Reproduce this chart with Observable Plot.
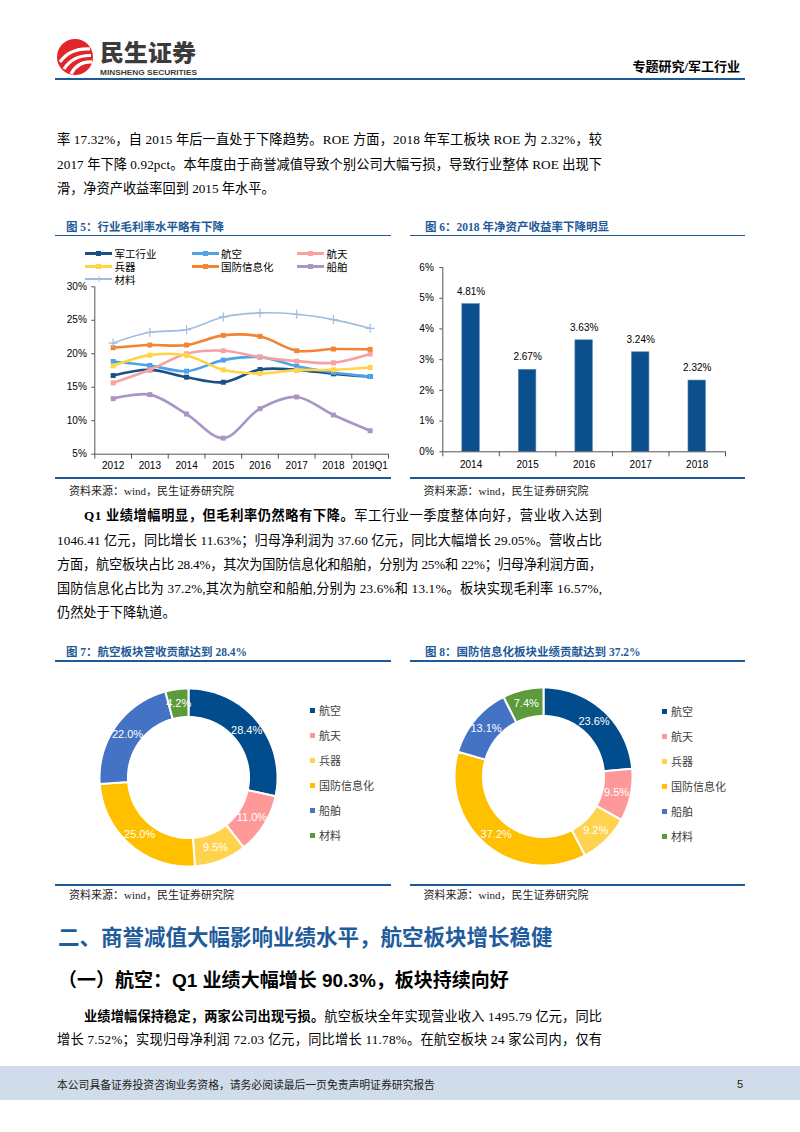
<!DOCTYPE html>
<html><head><meta charset="utf-8">
<script src="https://cdn.jsdelivr.net/npm/d3@7"></script>
<script src="https://cdn.jsdelivr.net/npm/@observablehq/plot@0.6"></script>
<style>
body{margin:0;background:#fff;}
#page{position:relative;width:800px;height:1132px;overflow:hidden;background:#fff;font-family:"Liberation Serif","Noto Sans CJK SC",serif;color:#000;}
.abs{position:absolute;white-space:nowrap;}
.tl{position:absolute;left:57px;width:545px;font-size:13.2px;line-height:18px;white-space:nowrap;text-align:left;}
.tl.ind{left:84px;width:518px;}
.tl b{font-family:"Liberation Serif","Noto Sans CJK SC",serif;font-weight:700;}
.ftitle{position:absolute;font-size:11.5px;line-height:14px;font-weight:700;color:#1f5a98;font-family:"Liberation Serif","Noto Sans CJK SC",serif;white-space:nowrap;}
.hline{position:absolute;height:1.6px;background:#1f5a98;}
.src{position:absolute;font-size:11px;line-height:14px;color:#222;white-space:nowrap;}
.chart{position:absolute;}
.lg{position:absolute;font-family:"Noto Sans CJK SC",sans-serif;font-size:10.5px;line-height:13px;white-space:nowrap;}
.lgline{position:absolute;height:3px;}
.lgmark{position:absolute;width:5px;height:5px;}
.dl{position:absolute;font-family:"Noto Sans CJK SC",sans-serif;font-size:11px;line-height:14px;color:#404040;white-space:nowrap;}
.dl i{display:inline-block;width:5px;height:5px;margin-right:4px;vertical-align:middle;position:relative;top:-1px;}
</style></head>
<body><div id="page">

<!-- header -->
<svg class="abs" style="left:55px;top:34px;overflow:visible" width="170" height="48">
  <circle cx="20" cy="23" r="18" fill="#e0262b"/>
  <path d="M5 28 Q 15 14 35 15" stroke="#fff" stroke-width="3.2" fill="none"/>
  <path d="M9 35 Q 18 21 36 21.5" stroke="#fff" stroke-width="3.2" fill="none"/>
  <path d="M16 40 Q 23 27 37 28" stroke="#fff" stroke-width="3.2" fill="none"/>
  <text x="45" y="26.5" font-size="23" font-weight="900" fill="#3b3b3b" font-family="Noto Sans CJK SC" textLength="96" lengthAdjust="spacingAndGlyphs">民生证券</text>
  <text x="45" y="40.5" font-size="8" font-weight="700" fill="#3b3b3b" font-family="Liberation Sans" textLength="97" lengthAdjust="spacingAndGlyphs">MINSHENG SECURITIES</text>
</svg>
<div class="abs" style="right:60px;top:58px;font-size:13px;line-height:17px;font-weight:700;font-family:'Liberation Serif','Noto Sans CJK SC',serif;">专题研究/军工行业</div>
<div class="abs" style="left:55px;top:77.5px;width:690px;height:2.6px;background:#1b5a96;"></div>

<!-- paragraph 1 -->
<div class="tl fit" style="top:131px">率 17.32%，自 2015 年后一直处于下降趋势。ROE 方面，2018 年军工板块 ROE 为 2.32%，较</div>
<div class="tl fit" style="top:156px">2017 年下降 0.92pct。本年度由于商誉减值导致个别公司大幅亏损，导致行业整体 ROE 出现下</div>
<div class="tl" style="top:180px">滑，净资产收益率回到 2015 年水平。</div>

<!-- figure titles top -->
<div class="ftitle" style="left:66px;top:220px">图 5：行业毛利率水平略有下降</div>
<div class="hline" style="left:55px;top:234.5px;width:336px"></div>
<div class="ftitle" style="left:425px;top:220px">图 6：2018 年净资产收益率下降明显</div>
<div class="hline" style="left:410px;top:234.5px;width:335px"></div>

<div id="lineLegend"></div>
<div id="lineChart" class="chart" style="left:57px;top:280px"></div>
<div id="barChart" class="chart" style="left:410px;top:255px"></div>

<div class="hline" style="left:55px;top:477px;width:336px"></div>
<div class="hline" style="left:410px;top:477px;width:335px"></div>
<div class="src" style="left:69px;top:484px">资料来源：wind，民生证券研究院</div>
<div class="src" style="left:423.5px;top:484px">资料来源：wind，民生证券研究院</div>

<!-- paragraph 2 -->
<div class="tl ind fit" style="top:507px"><b>Q1 业绩增幅明显，但毛利率仍然略有下降。</b>军工行业一季度整体向好，营业收入达到</div>
<div class="tl fit" style="top:532px">1046.41 亿元，同比增长 11.63%；归母净利润为 37.60 亿元，同比大幅增长 29.05%。营收占比</div>
<div class="tl fit" style="top:556px">方面，航空板块占比 28.4%，其次为国防信息化和船舶，分别为 25%和 22%；归母净利润方面，</div>
<div class="tl fit" style="top:580px">国防信息化占比为 37.2%,其次为航空和船舶,分别为 23.6%和 13.1%。板块实现毛利率 16.57%,</div>
<div class="tl" style="top:604px">仍然处于下降轨道。</div>

<!-- figure titles bottom -->
<div class="ftitle" style="left:66px;top:644.5px">图 7：航空板块营收贡献达到 28.4%</div>
<div class="hline" style="left:55px;top:660px;width:336px"></div>
<div class="ftitle" style="left:425px;top:644.5px">图 8：国防信息化板块业绩贡献达到 37.2%</div>
<div class="hline" style="left:410px;top:660px;width:335px"></div>

<div id="donut1" class="chart" style="left:88px;top:677px"></div>
<div id="donut2" class="chart" style="left:443px;top:676px"></div>
<div id="legend1"></div>
<div id="legend2"></div>

<div class="hline" style="left:55px;top:884px;width:336px"></div>
<div class="hline" style="left:410px;top:884px;width:335px"></div>
<div class="src" style="left:69px;top:888px">资料来源：wind，民生证券研究院</div>
<div class="src" style="left:423.5px;top:888px">资料来源：wind，民生证券研究院</div>

<!-- headings -->
<div class="abs" style="left:58px;top:923px;font-size:21.5px;line-height:26px;font-weight:700;color:#1f5c9c;font-family:'Noto Sans CJK SC',sans-serif;">二、商誉减值大幅影响业绩水平，航空板块增长稳健</div>
<div class="abs" style="left:58px;top:969px;font-size:19px;line-height:24px;font-weight:700;color:#000;font-family:'Liberation Sans','Noto Sans CJK SC',sans-serif;">（一）航空：Q1 业绩大幅增长 90.3%，板块持续向好</div>

<div class="tl ind fit" style="top:1008px"><b>业绩增幅保持稳定，两家公司出现亏损。</b>航空板块全年实现营业收入 1495.79 亿元，同比</div>
<div class="tl fit" style="top:1031px">增长 7.52%；实现归母净利润 72.03 亿元，同比增长 11.78%。在航空板块 24 家公司内，仅有</div>

<!-- footer -->
<div class="abs" style="left:0;top:1066px;width:800px;height:34px;background:#d0dcea;"></div>
<div class="abs" style="left:57px;top:1077px;font-size:10.8px;line-height:14px;color:#222;font-family:'Noto Sans CJK SC',sans-serif;">本公司具备证券投资咨询业务资格，请务必阅读最后一页免责声明证券研究报告</div>
<div class="abs" style="left:737px;top:1077px;font-size:11px;line-height:14px;color:#222;font-family:'Liberation Sans',sans-serif;">5</div>

</div>
<script>
// ---------- data ----------
const years = ["2012","2013","2014","2015","2016","2017","2018","2019Q1"];
const seriesNames = ["军工行业","航空","航天","兵器","国防信息化","船舶","材料"];
const junGong   = [16.75,17.6,16.5,15.75,17.65,17.6,17.0,16.6];
const hangKong  = [18.85,18.25,17.4,19.05,19.5,18.15,17.2,16.6];
const hangTian  = [15.65,17.6,20.0,20.45,19.5,18.9,18.65,19.95];
const bingQi    = [18.2,19.8,19.75,17.6,17.05,17.55,17.6,17.95];
const guoFang   = [20.9,21.3,21.3,22.75,22.6,20.45,20.7,20.65];
const chuanBo   = [13.3,13.9,11.0,7.4,11.8,13.55,10.85,8.5];
const caiLiao   = [21.6,23.2,23.6,25.5,26.1,25.9,25.1,23.8];
const marginTicks = [5,10,15,20,25,30];

const roeYears  = ["2014","2015","2016","2017","2018"];
const roeValues = [4.81,2.67,3.63,3.24,2.32];
const roeTicks  = [0,1,2,3,4,5,6];

const sectors       = ["航空","航天","兵器","国防信息化","船舶","材料"];
const revenueShare  = [28.4,11.0,9.5,25.0,22.0,4.2];
const profitShare   = [23.6,9.5,9.2,37.2,13.1,7.4];

// ---------- fit justified text lines ----------
document.querySelectorAll(".tl.fit").forEach(el=>{
  const target = el.clientWidth;
  const span = document.createElement("span");
  while (el.firstChild) span.append(el.firstChild);
  el.append(span);
  const w = span.getBoundingClientRect().width;
  const n = el.textContent.length;
  el.style.letterSpacing = ((target - w) / (n - 1)) + "px";
});

// ---------- styles ----------
const lineColors = ["#1b4f88","#4ba3e8","#f7a1a1","#ffd445","#f28433","#a996c6","#a2bcdf"];
const sectorColors = ["#004c8c","#ff9999","#ffd34d","#ffc000","#4472c4","#5b9b3c"];
const axisColor = "#555";
const chartFont = "'Liberation Sans','Noto Sans CJK SC',sans-serif";

// ---------- line chart ----------
const seriesValues = [junGong,hangKong,hangTian,bingQi,guoFang,chuanBo,caiLiao];
const lineRows = seriesValues.flatMap((vals,s)=>vals.map((v,i)=>({s:seriesNames[s], i, v})));
const lineMarks = [];
seriesNames.forEach((name,s)=>{
  const rows = lineRows.filter(d=>d.s===name);
  const thin = name==="材料";
  lineMarks.push(Plot.line(rows,{x:"i",y:"v",stroke:lineColors[s],strokeWidth:thin?1.6:2.6,curve:"catmull-rom"}));
  if (thin) lineMarks.push(Plot.dot(rows,{x:"i",y:"v",symbol:"plus",r:3,stroke:lineColors[s],strokeWidth:1.2}));
  else lineMarks.push(Plot.dot(rows,{x:"i",y:"v",symbol:"square",r:2.8,fill:lineColors[s],stroke:"none"}));
});
const lineChart = Plot.plot({
  width:334, height:196, marginLeft:37.3, marginRight:3, marginTop:6.3, marginBottom:22.3,
  style:{fontFamily:chartFont, fontSize:"10px", color:"#000", background:"transparent", overflow:"visible"},
  x:{domain:[-0.5, years.length-0.5], label:null},
  y:{domain:[5,30], label:null},
  marks:[
    ...lineMarks,
    Plot.ruleX([-0.5],{stroke:axisColor}),
    Plot.ruleY([5],{stroke:axisColor}),
    Plot.axisY({ticks:marginTicks, tickFormat:d=>d+"%", tickSize:3, tickPadding:5, stroke:axisColor, label:null, fontSize:10}),
    Plot.axisX({ticks:d3.range(years.length), tickFormat:i=>years[i], tickSize:0, tickPadding:8, label:null, fontSize:10}),
    Plot.axisX({ticks:d3.range(years.length+1).map(i=>i-0.5), tickFormat:()=>"", tickSize:5, stroke:axisColor, label:null})
  ]
});
document.getElementById("lineChart").append(lineChart);

// line legend (HTML)
const legendPos = [[85,253],[191.5,253],[297,253],[85,266],[191.5,266],[297,266],[85,279]];
const lgRoot = document.getElementById("lineLegend");
seriesNames.forEach((name,s)=>{
  const [lx,ly] = legendPos[s];
  const thin = name==="材料";
  const ln = document.createElement("div");
  ln.className="lgline";
  ln.style.cssText=`left:${lx}px;top:${ly-(thin?0.8:1.5)}px;width:27px;height:${thin?1.6:3}px;background:${lineColors[s]}`;
  lgRoot.append(ln);
  if (thin) {
    const p = document.createElement("div");
    p.className="abs";
    p.style.cssText=`left:${lx+10.5}px;top:${ly-9}px;font-size:12px;line-height:18px;color:${lineColors[s]};font-family:'Liberation Sans'`;
    p.textContent="+";
    lgRoot.append(p);
  } else {
    const m = document.createElement("div");
    m.className="lgmark";
    m.style.cssText=`left:${lx+11}px;top:${ly-2.5}px;background:${lineColors[s]}`;
    lgRoot.append(m);
  }
  const t = document.createElement("div");
  t.className="lg";
  t.style.cssText=`left:${lx+29.5}px;top:${ly-6.5}px`;
  t.textContent=name;
  lgRoot.append(t);
});

// ---------- bar chart ----------
const roeRows = roeYears.map((y,i)=>({y, i, v:roeValues[i]}));
const barChart = Plot.plot({
  width:335, height:221, marginLeft:32.3, marginRight:20, marginTop:12, marginBottom:24.7,
  style:{fontFamily:chartFont, fontSize:"10px", color:"#000", background:"transparent", overflow:"visible"},
  x:{domain:[-0.5, roeYears.length-0.5], label:null},
  y:{domain:[0,6], label:null},
  marks:[
    Plot.rectY(roeRows,{x1:d=>d.i-0.155, x2:d=>d.i+0.155, y1:0, y2:"v", fill:"#0b4f8d", stroke:"#5f8bbb", strokeWidth:0.6}),
    Plot.text(roeRows,{x:"i", y:"v", text:d=>d.v.toFixed(2)+"%", dy:-12.5, fontSize:10, fill:"#000"}),
    Plot.ruleX([-0.5],{stroke:axisColor}),
    Plot.ruleY([0],{stroke:axisColor}),
    Plot.axisY({ticks:roeTicks, tickFormat:d=>d+"%", tickSize:3, tickPadding:6, stroke:axisColor, label:null, fontSize:10}),
    Plot.axisX({ticks:d3.range(roeYears.length), tickFormat:i=>roeYears[i], tickSize:0, tickPadding:9, label:null, fontSize:10}),
    Plot.axisX({ticks:d3.range(roeYears.length+1).map(i=>i-0.5), tickFormat:()=>"", tickSize:5, stroke:axisColor, label:null})
  ]
});
document.getElementById("barChart").append(barChart);

// ---------- donuts ----------
function donutChart(values){
  const rows = sectors.map((name,k)=>({name, v:values[k], color:sectorColors[k]}));
  const arcs = d3.pie().sort(null).value(d=>d.v)(rows);
  const R = 1, r0 = 0.68, n = 60;
  const marks = [];
  const labels = [];
  arcs.forEach(a=>{
    const pts = [];
    for (let t=0;t<=n;t++){ const ang=a.startAngle+(a.endAngle-a.startAngle)*t/n; pts.push({x:R*Math.sin(ang), y:R*Math.cos(ang)}); }
    for (let t=n;t>=0;t--){ const ang=a.startAngle+(a.endAngle-a.startAngle)*t/n; pts.push({x:r0*Math.sin(ang), y:r0*Math.cos(ang)}); }
    pts.push(pts[0]);
    marks.push(Plot.line(pts,{x:"x", y:"y", fill:a.data.color, stroke:"#fff", strokeWidth:2, strokeLinejoin:"miter"}));
    const mid=(a.startAngle+a.endAngle)/2, rm=(R+r0)/2;
    labels.push({x:rm*Math.sin(mid), y:rm*Math.cos(mid), t:a.data.v.toFixed(1)+"%"});
  });
  const ext = 100/89;
  return Plot.plot({
    width:200, height:200, margin:0,
    style:{background:"transparent", overflow:"visible"},
    x:{domain:[-ext,ext], axis:null}, y:{domain:[-ext,ext], axis:null},
    marks:[...marks, Plot.text(labels,{x:"x", y:"y", text:"t", fill:"#fff", fontSize:11, fontFamily:"'Liberation Sans',sans-serif"})]
  });
}
document.getElementById("donut1").append(donutChart(revenueShare));
document.getElementById("donut2").append(donutChart(profitShare));

function donutLegend(id, left, top0){
  const root = document.getElementById(id);
  sectors.forEach((name,k)=>{
    const d = document.createElement("div");
    d.className="dl";
    d.style.left=left+"px";
    d.style.top=(top0+k*25-7)+"px";
    const sq = document.createElement("i");
    sq.style.background=sectorColors[k];
    d.append(sq, document.createTextNode(name));
    root.append(d);
  });
}
donutLegend("legend1", 310, 709.5);
donutLegend("legend2", 662, 710.5);
</script>
</body></html>
